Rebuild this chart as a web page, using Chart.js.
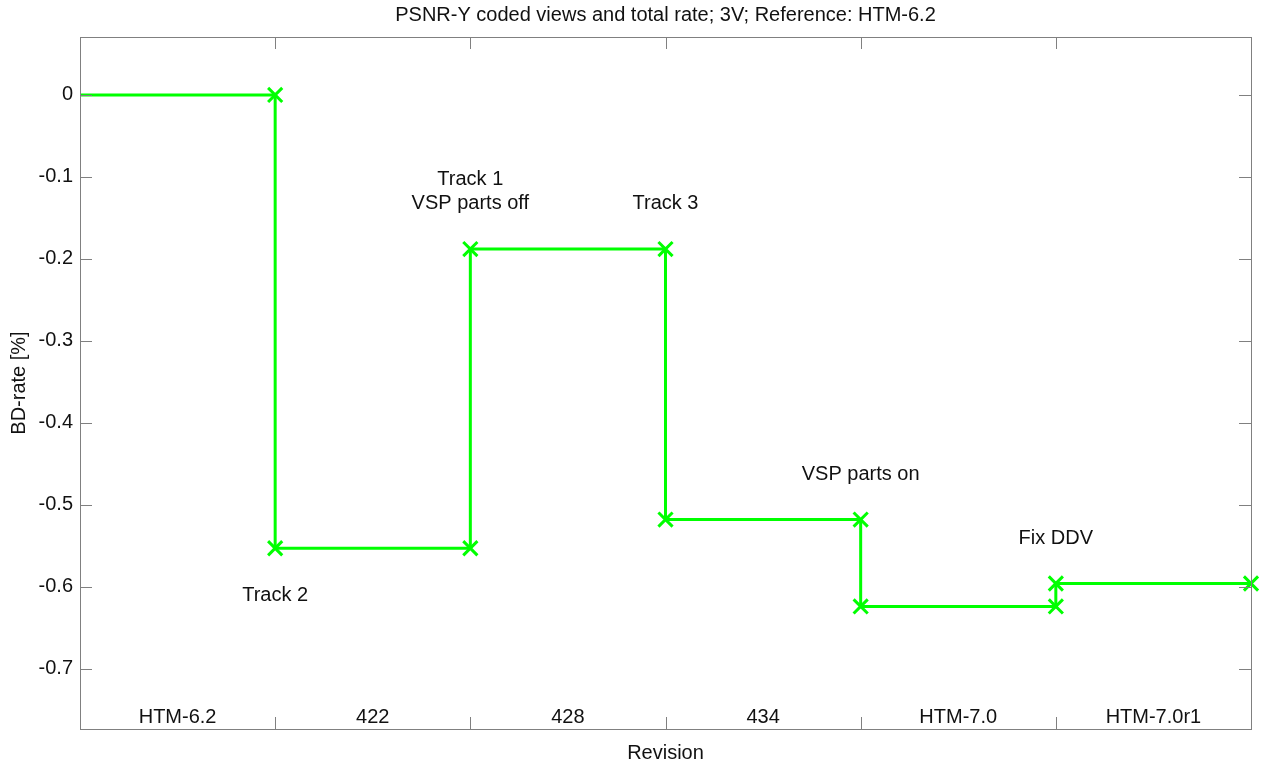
<!DOCTYPE html>
<html>
<head>
<meta charset="utf-8">
<script src="https://cdn.jsdelivr.net/npm/chart.js@4"></script>
<style>
  html, body { margin: 0; padding: 0; background: #fff; }
  #wrap { width: 1264px; height: 769px; }
</style>
</head>
<body>
<div id="wrap"><canvas id="chart"></canvas></div>
<script>
// revisions and BD-rate per revision
const revisions = ['HTM-6.2', '422', '428', '434', 'HTM-7.0', 'HTM-7.0r1'];
const bdRate = [0, -0.553, -0.188, -0.518, -0.624, -0.596];
const yTicks = [0, -0.1, -0.2, -0.3, -0.4, -0.5, -0.6, -0.7];

// notes at revision boundaries
const noteX = [1, 2, 3, 4, 5];
const noteY = [-0.611, -0.118, -0.133, -0.463, -0.541];
const noteText = [['Track 2'], ['Track 1', 'VSP parts off'], ['Track 3'], ['VSP parts on'], ['Fix DDV']];

const FONT = '20px "Liberation Sans", Arial, sans-serif';
const TEXT = '#111';
const AXIS = '#808080';

// build the step line: each revision holds its value until the next one
const points = [];
bdRate.forEach((v, i) => {
  points.push({ x: i, y: v });
  points.push({ x: i + 1, y: v });
});
const radii = points.map((p, i) => i === 0 ? 0 : 10);

const decor = {
  id: 'decor',
  afterDraw(chart) {
    const { ctx, chartArea: a, scales } = chart;
    const xs = scales.x, ys = scales.y;
    ctx.save();
    // box
    ctx.strokeStyle = AXIS;
    ctx.lineWidth = 1;
    ctx.strokeRect(a.left + 0.5, a.top + 0.5, a.right - a.left, a.bottom - a.top);
    // inward ticks
    ctx.beginPath();
    yTicks.forEach(v => {
      const y = Math.round(ys.getPixelForValue(v)) + 0.5;
      ctx.moveTo(a.left, y); ctx.lineTo(a.left + 12, y);
      ctx.moveTo(a.right, y); ctx.lineTo(a.right - 12, y);
    });
    for (let i = 1; i < revisions.length; i++) {
      const x = Math.round(xs.getPixelForValue(i)) + 0.5;
      ctx.moveTo(x, a.bottom); ctx.lineTo(x, a.bottom - 12);
      ctx.moveTo(x, a.top); ctx.lineTo(x, a.top + 12);
    }
    ctx.stroke();

    ctx.font = FONT;
    ctx.fillStyle = TEXT;
    ctx.textAlign = 'center';
    ctx.textBaseline = 'middle';
    // revision labels inside the box
    revisions.forEach((r, i) => {
      ctx.fillText(r, xs.getPixelForValue(i + 0.5), a.bottom - 12);
    });
    // notes
    noteText.forEach((lines, i) => {
      const x = xs.getPixelForValue(noteX[i]);
      const y = ys.getPixelForValue(noteY[i]);
      const top = y - (lines.length - 1) * 24 / 2;
      lines.forEach((t, k) => ctx.fillText(t, x, top + k * 24));
    });
    // title and axis titles
    ctx.fillText('PSNR-Y coded views and total rate; 3V; Reference: HTM-6.2', (a.left + a.right) / 2, 15);
    ctx.fillText('Revision', (a.left + a.right) / 2, 753);
    ctx.translate(19, (a.top + a.bottom) / 2);
    ctx.rotate(-Math.PI / 2);
    ctx.fillText('BD-rate [%]', 0, 0);
    ctx.restore();
  }
};

new Chart(document.getElementById('chart'), {
  type: 'line',
  data: {
    datasets: [{
      data: points,
      borderColor: '#00ff00',
      backgroundColor: '#00ff00',
      borderWidth: 3,
      pointStyle: 'crossRot',
      pointRadius: radii,
      pointBorderWidth: 3,
      pointBorderColor: '#00ff00',
      pointHoverRadius: radii,
      tension: 0,
      clip: false
    }]
  },
  options: {
    responsive: true,
    maintainAspectRatio: false,
    animation: false,
    events: [],
    layout: { padding: { top: 37, right: 13, left: 0, bottom: 0 } },
    plugins: { legend: { display: false }, title: { display: false }, tooltip: { enabled: false } },
    scales: {
      x: {
        type: 'linear',
        min: 0,
        max: revisions.length,
        grid: { display: false, drawTicks: false },
        border: { display: false },
        ticks: { display: false },
        afterFit: s => { s.height = 40; }
      },
      y: {
        min: -0.7735,
        max: 0.0707,
        grid: { display: false, drawTicks: false },
        border: { display: false },
        afterBuildTicks: s => { s.ticks = yTicks.map(v => ({ value: v })); },
        ticks: {
          color: TEXT,
          font: { family: '"Liberation Sans", Arial, sans-serif', size: 20 },
          padding: 7,
          callback: v => String(Math.round(v * 10) / 10)
        },
        afterFit: s => { s.width = 80; }
      }
    }
  },
  plugins: [decor]
});
</script>
</body>
</html>
